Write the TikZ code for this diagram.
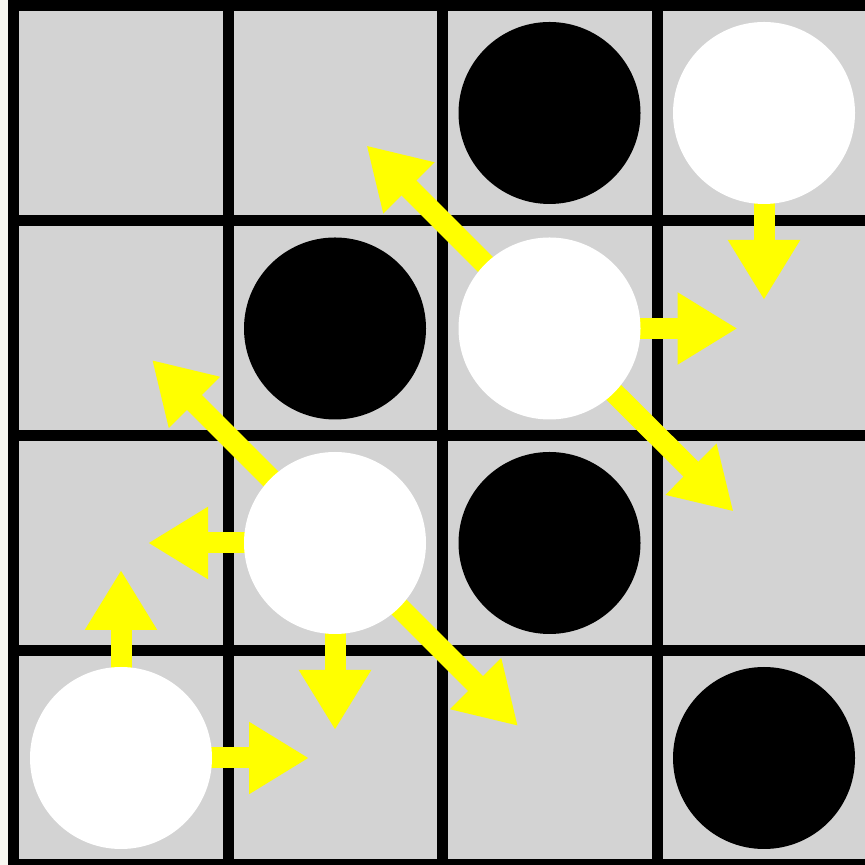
\documentclass[tikz,border=0pt]{standalone}
\usetikzlibrary{arrows.meta}
\definecolor{boardgrey}{HTML}{D3D3D3}
\definecolor{margin}{HTML}{F7F7F0}
\definecolor{moveyellow}{HTML}{FFFF00}
\pgfdeclarelayer{bg}
\pgfdeclarelayer{mid}
\pgfsetlayers{bg,mid,main}
\tikzset{
  stone/.style={circle, inner sep=0pt, minimum size=91pt},
  blackstone/.style={stone, fill=black},
  whitestone/.style={stone, fill=white},
  gridline/.style={line width=5.5pt, black, line cap=rect},
  move/.style={line width=10.5pt, moveyellow,
    -{Triangle[width=34pt,length=30pt]}}
}
\begin{document}
\begin{tikzpicture}[x=0.5pt,y=0.5pt]
\useasboundingbox (0,0) rectangle (864,865);
\clip (0,0) rectangle (864,865);
% stones
\node[blackstone] (b1) at (549.5,752) {};
\node[whitestone] (w1) at (764,752) {};
\node[blackstone] (b2) at (335,536.5) {};
\node[whitestone] (w2) at (549.5,536.5) {};
\node[whitestone] (w3) at (335,322) {};
\node[blackstone] (b3) at (549.5,322) {};
\node[whitestone] (w4) at (121,107) {};
\node[blackstone] (b4) at (764,107) {};
% targets
\path (w4.center) ++(0,188) coordinate (w4u);
\path (w4.center) ++(188,0) coordinate (w4r);
\path (w3.center) ++(-183,183) coordinate (w3ul);
\path (w3.center) ++(-187,0) coordinate (w3l);
\path (w3.center) ++(0,-187) coordinate (w3d);
\path (w3.center) ++(183,-183) coordinate (w3dr);
\path (w2.center) ++(-183,183) coordinate (w2ul);
\path (w2.center) ++(188,0) coordinate (w2r);
\path (w2.center) ++(184,-183) coordinate (w2dr);
\path (w1.center) ++(0,-187) coordinate (w1d);
\begin{pgfonlayer}{bg}
  \fill[margin] (0,0) rectangle (864,865);
  \fill[boardgrey] (13.5,0) rectangle (871.5,859.5);
  \foreach \x in {13.5,228,442.5,657,871.5}
    \draw[gridline] (\x,0) -- (\x,859.5);
  \foreach \y in {0,214.5,429,644,859.5}
    \draw[gridline] (13.5,\y) -- (871.5,\y);
\end{pgfonlayer}
\begin{pgfonlayer}{mid}
  \draw[move] (w4.center) -- (w4u);
  \draw[move] (w4.center) -- (w4r);
  \draw[move] (w3.center) -- (w3ul);
  \draw[move] (w3.center) -- (w3l);
  \draw[move] (w3.center) -- (w3d);
  \draw[move] (w3.center) -- (w3dr);
  \draw[move] (w2.center) -- (w2ul);
  \draw[move] (w2.center) -- (w2r);
  \draw[move] (w2.center) -- (w2dr);
  \draw[move] (w1.center) -- (w1d);
\end{pgfonlayer}
\end{tikzpicture}
\end{document}
